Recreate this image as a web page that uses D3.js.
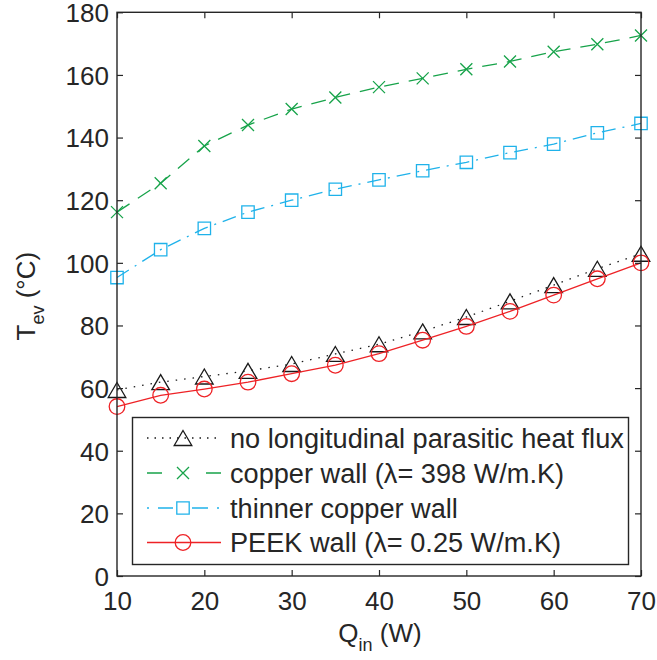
<!DOCTYPE html>
<html>
<head>
<meta charset="utf-8">
<script src="https://cdn.jsdelivr.net/npm/d3@7"></script>
<style>
  html, body { margin: 0; padding: 0; background: #fff; }
  svg { display: block; }
  text { font-family: "Liberation Sans", Arial, Helvetica, sans-serif; fill: #262626; }
</style>
</head>
<body>
<script>
// ---- data ----
const Q = [10, 15, 20, 25, 30, 35, 40, 45, 50, 55, 60, 65, 70];
const noParasitic = [59.4, 61.9, 63.7, 65.5, 67.7, 70.9, 74.0, 78.1, 82.7, 87.7, 92.9, 98.1, 102.9];
const copperWall  = [116.2, 125.4, 137.3, 144.0, 149.1, 152.8, 156.1, 158.9, 161.8, 164.3, 167.4, 169.8, 172.6];
const thinnerWall = [95.3, 104.2, 111.0, 116.2, 120.0, 123.5, 126.5, 129.4, 132.1, 135.2, 137.9, 141.5, 144.5];
const peekWall    = [54.1, 57.7, 59.7, 61.9, 64.6, 67.3, 71.0, 75.3, 79.7, 84.5, 89.7, 94.9, 100.0];
const seriesNames = [
  "no longitudinal parasitic heat flux",
  "copper wall (\u03bb= 398 W/m.K)",
  "thinner copper wall",
  "PEEK wall (\u03bb= 0.25 W/m.K)"
];
const xTicks = [10, 20, 30, 40, 50, 60, 70];
const yTicks = [0, 20, 40, 60, 80, 100, 120, 140, 160, 180];

// ---- layout ----
const W = 657, H = 660;
const L = 117, R = 641, T = 12.3, B = 576;
const axisColor = "#262626";

const svg = d3.select("body").append("svg").attr("width", W).attr("height", H);

const x = d3.scaleLinear().domain([10, 70]).range([L, R]);
const y = d3.scaleLinear().domain([0, 180]).range([B, T]);

const styles = [
  { values: noParasitic, color: "#1a1a1a", dash: "1.5,7", marker: "triangle", legendDash: "1.5,6" },
  { values: copperWall,  color: "#17a34a", dash: "15,10", marker: "x", legendDash: "15,44" },
  { values: thinnerWall, color: "#1fb2ea", dash: "14,7,2,7", marker: "square", legendDash: "2,9,15,19,16,9,2,20" },
  { values: peekWall,    color: "#ee2226", dash: null, marker: "circle", legendDash: null }
];

function circlePath(r) {
  return `M${-r},0A${r},${r} 0 1,0 ${r},0A${r},${r} 0 1,0 ${-r},0Z`;
}
function mPath(type) {
  if (type === "triangle") return "M0,-7.5L8.8,7.5L-8.8,7.5Z";
  if (type === "x") return "M-6,-6L6,6M-6,6L6,-6";
  if (type === "square") return "M-6.2,-6.2H6.2V6.2H-6.2Z";
  return circlePath(7.8);
}

// ---- series ----
const line = d3.line().x((d, i) => x(Q[i])).y(d => y(d));
const gSeries = svg.append("g");
styles.forEach(s => {
  gSeries.append("path")
    .attr("d", line(s.values))
    .attr("fill", "none")
    .attr("stroke", s.color)
    .attr("stroke-width", 1.3)
    .attr("stroke-dasharray", s.dash);
  gSeries.selectAll(null).data(s.values).enter().append("path")
    .attr("transform", (d, i) => `translate(${x(Q[i])},${y(d)})`)
    .attr("d", mPath(s.marker))
    .attr("fill", "none")
    .attr("stroke", s.color)
    .attr("stroke-width", 1.3);
});

// ---- axes box + ticks (inward, all four sides) ----
const gAx = svg.append("g");
gAx.append("rect")
  .attr("x", L).attr("y", T).attr("width", R - L).attr("height", B - T)
  .attr("fill", "none").attr("stroke", axisColor).attr("stroke-width", 1.4);

const tl = 6;
const xAxisB = d3.axisBottom(x).tickValues(xTicks).tickSizeInner(-tl).tickSizeOuter(0).tickFormat(d3.format("d"));
const gxb = gAx.append("g").attr("transform", `translate(0,${B})`).call(xAxisB);
gxb.select(".domain").remove();
gxb.selectAll(".tick line").attr("stroke", axisColor).attr("stroke-width", 1.2);
gxb.selectAll(".tick text").attr("font-size", 26).attr("y", 0).attr("dy", 0)
  .attr("transform", "translate(0,34)").attr("fill", axisColor);

const xAxisT = d3.axisTop(x).tickValues(xTicks).tickSizeInner(-tl).tickSizeOuter(0).tickFormat("");
const gxt = gAx.append("g").attr("transform", `translate(0,${T})`).call(xAxisT);
gxt.select(".domain").remove();
gxt.selectAll(".tick line").attr("stroke", axisColor).attr("stroke-width", 1.2);

const yAxisL = d3.axisLeft(y).tickValues(yTicks).tickSizeInner(-tl).tickSizeOuter(0).tickFormat(d3.format("d"));
const gyl = gAx.append("g").attr("transform", `translate(${L},0)`).call(yAxisL);
gyl.select(".domain").remove();
gyl.selectAll(".tick line").attr("stroke", axisColor).attr("stroke-width", 1.2);
gyl.selectAll(".tick text").attr("font-size", 26).attr("x", -8).attr("dy", "0.36em").attr("fill", axisColor);

const yAxisR = d3.axisRight(y).tickValues(yTicks).tickSizeInner(-tl).tickSizeOuter(0).tickFormat("");
const gyr = gAx.append("g").attr("transform", `translate(${R},0)`).call(yAxisR);
gyr.select(".domain").remove();
gyr.selectAll(".tick line").attr("stroke", axisColor).attr("stroke-width", 1.2);

svg.selectAll(".tick text").style("font-family", '"Liberation Sans", Arial, sans-serif');

// ---- axis labels ----
const xl = svg.append("text").attr("x", (L + R) / 2 + 1).attr("y", 642)
  .attr("text-anchor", "middle").attr("font-size", 26);
xl.append("tspan").text("Q");
xl.append("tspan").attr("font-size", 18).attr("dy", 9).text("in");
xl.append("tspan").attr("dy", -9).text(" (W)");

const yl = svg.append("text").attr("transform", `translate(35,${(T + B) / 2 + 2}) rotate(-90)`)
  .attr("text-anchor", "middle").attr("font-size", 26);
yl.append("tspan").text("T");
yl.append("tspan").attr("font-size", 18).attr("dy", 9).text("ev");
yl.append("tspan").attr("dy", -9).text(" (\u00b0C)");

// ---- legend ----
const lg = svg.append("g");
lg.append("rect").attr("x", 132.5).attr("y", 417.5).attr("width", 496).attr("height", 147)
  .attr("fill", "#fff").attr("stroke", axisColor).attr("stroke-width", 1.4);
const rowY = [438, 473, 508, 542.5];
const texts = [];
styles.forEach((s, i) => {
  const yy = rowY[i];
  lg.append("line").attr("x1", 147).attr("x2", 221).attr("y1", yy).attr("y2", yy)
    .attr("stroke", s.color).attr("stroke-width", 1.3).attr("stroke-dasharray", s.legendDash);
  lg.append("path").attr("transform", `translate(183,${yy})`)
    .attr("d", mPath(s.marker)).attr("fill", "none").attr("stroke", s.color).attr("stroke-width", 1.3);
  texts.push(lg.append("text").attr("x", 230).attr("y", yy + 9.5).attr("font-size", 26).text(seriesNames[i]));
});
// size legend text so the longest entry spans the same width as in the reference
const w0 = texts[0].node().getComputedTextLength();
const fs = Math.min(28, Math.max(24, 26 * 394 / w0));
texts.forEach(t => t.attr("font-size", fs));
</script>
</body>
</html>
